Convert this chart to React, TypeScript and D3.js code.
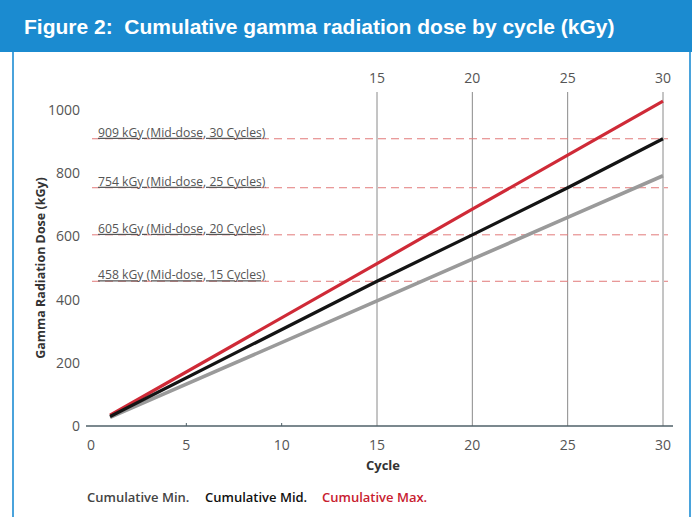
import * as d3 from 'd3'
import { useRef, useEffect } from 'react'

const cycles = [1, 15, 20, 25, 30]
const minDose = [27, 396, 528, 660, 792]
const midDose = [30, 458, 605, 754, 909]
const maxDose = [34, 514, 686, 857, 1028]

const refValues = [909, 754, 605, 458]
const refLabels = [
  '909 kGy (Mid-dose, 30 Cycles)',
  '754 kGy (Mid-dose, 25 Cycles)',
  '605 kGy (Mid-dose, 20 Cycles)',
  '458 kGy (Mid-dose, 15 Cycles)',
]
const yTicks = [0, 200, 400, 600, 800, 1000]
const xTicks = [0, 5, 10, 15, 20, 25, 30]
const topTicks = [15, 20, 25, 30]
const legendNames = ['Cumulative Min.', 'Cumulative Mid.', 'Cumulative Max.']
const title = 'Figure 2:  Cumulative gamma radiation dose by cycle (kGy)'

export default function App() {
  const svgRef = useRef<SVGSVGElement>(null)
  useEffect(() => {
    const width = 695
    const height = 517
    const font = '"Open Sans", "Noto Sans", sans-serif'
    const blue = '#1b8bd0'

    const svg = d3.select(svgRef.current)
    svg.selectAll('*').remove()
    svg.attr('width', width).attr('height', height)

    svg.append('rect').attr('width', width).attr('height', height).attr('fill', '#fff')
    // frame
    svg.append('rect').attr('x', 13).attr('y', 40).attr('width', 677).attr('height', 490)
      .attr('fill', '#fff').attr('stroke', '#4aa3dc').attr('stroke-width', 2)
    svg.append('rect').attr('x', 0).attr('y', 0).attr('width', 692).attr('height', 52).attr('fill', blue)
    svg.append('text').text(title)
      .attr('x', 24).attr('y', 34)
      .attr('fill', '#fff').attr('font-family', 'Liberation Sans, Arial, sans-serif')
      .attr('font-weight', 'bold').attr('font-size', 21)
      .style('white-space', 'pre')

    const x = d3.scaleLinear().domain([0, 30]).range([91, 663])
    const y = d3.scaleLinear().domain([0, 1000]).range([426, 110])

    // vertical grid lines
    svg.append('g').selectAll('line').data(topTicks).join('line')
      .attr('x1', d => x(d)).attr('x2', d => x(d))
      .attr('y1', 92).attr('y2', y(0))
      .attr('stroke', '#8a8a8a').attr('stroke-width', 1)

    svg.append('g').selectAll('text').data(topTicks).join('text')
      .text(d => d)
      .attr('x', d => x(d)).attr('y', 83)
      .attr('text-anchor', 'middle').attr('font-family', font).attr('font-size', 14).attr('fill', '#555')

    // reference dashed lines
    const refs = svg.append('g')
    refs.selectAll('line').data(refValues).join('line')
      .attr('x1', 92).attr('x2', 668)
      .attr('y1', d => y(d)).attr('y2', d => y(d))
      .attr('stroke', '#e27a7a').attr('stroke-width', 1)
      .attr('stroke-dasharray', '8,5')
    refs.selectAll('text').data(refValues).join('text')
      .text((d, i) => refLabels[i])
      .attr('x', 98).attr('y', d => y(d) - 2)
      .attr('font-family', font).attr('font-size', 12.2).attr('fill', '#555')
      .attr('text-decoration', 'underline')

    // axis
    const axis = svg.append('g').attr('transform', `translate(0, ${y(0)})`)
    axis.append('line').attr('x1', 86).attr('x2', 673).attr('stroke', '#4f6168').attr('stroke-width', 1.5)
    axis.selectAll('line.tk').data([5, 10]).join('line').attr('class', 'tk')
      .attr('x1', d => x(d)).attr('x2', d => x(d)).attr('y1', -3).attr('y2', 0)
      .attr('stroke', '#4f6168')
    axis.selectAll('text').data(xTicks).join('text')
      .text(d => d)
      .attr('x', d => x(d)).attr('y', 24)
      .attr('text-anchor', 'middle').attr('font-family', font).attr('font-size', 14).attr('fill', '#555')

    svg.append('g').selectAll('text').data(yTicks).join('text')
      .text(d => d)
      .attr('x', 80).attr('y', d => y(d) + 5)
      .attr('text-anchor', 'end').attr('font-family', font).attr('font-size', 14).attr('fill', '#555')

    svg.append('text').text('Cycle')
      .attr('x', 383).attr('y', 470).attr('text-anchor', 'middle')
      .attr('font-family', font).attr('font-weight', 'bold').attr('font-size', 13).attr('fill', '#333')

    svg.append('text').text('Gamma Radiation Dose (kGy)')
      .attr('transform', `translate(45, 268) rotate(-90)`)
      .attr('text-anchor', 'middle')
      .attr('font-family', font).attr('font-weight', 'bold').attr('font-size', 12.5).attr('fill', '#333')

    // series
    const series = [
      { values: maxDose, color: '#cf2a37', w: 3.2 },
      { values: minDose, color: '#9a9a9a', w: 3.6 },
      { values: midDose, color: '#141414', w: 3.2 },
    ]
    const line = d3.line<number>().x((d, i) => x(cycles[i])).y(d => y(d))
    svg.append('g').selectAll('path').data(series).join('path')
      .attr('d', d => line(d.values))
      .attr('fill', 'none')
      .attr('stroke', d => d.color)
      .attr('stroke-width', d => d.w)

    // legend
    const legendColors = ['#444', '#111', '#c8202f']
    const legendX = [87, 205, 322]
    svg.append('g').selectAll('text').data(legendNames).join('text')
      .text(d => d)
      .attr('x', (d, i) => legendX[i]).attr('y', 502)
      .attr('font-family', font).attr('font-weight', 600).attr('font-size', 13)
      .attr('fill', (d, i) => legendColors[i])
  }, [])

  return <svg ref={svgRef} style={{ position: 'absolute', left: 0, top: 0 }}></svg>
}
